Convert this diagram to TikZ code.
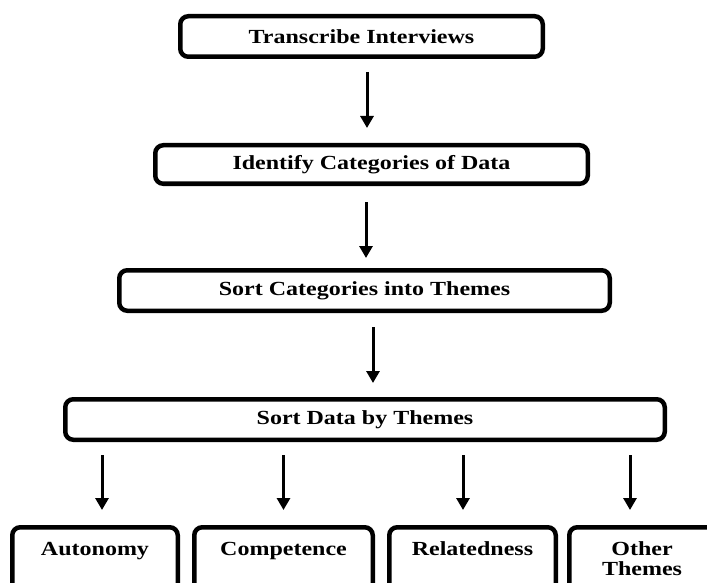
\documentclass[tikz,border=0pt]{standalone}
\usepackage{fontspec}
\setmainfont[FakeStretch=1.2]{Liberation Serif}
\usetikzlibrary{arrows.meta}
\tikzset{
  stepbox/.style={draw=black, line width=4.5pt, rounded corners=8pt, inner sep=0pt,
    font=\fontsize{20}{20}\selectfont\bfseries, align=center},
  leafbox/.style={stepbox, anchor=base, text height=27.75pt, text depth=75pt},
  arr/.style={line width=3pt, -{Triangle[width=13pt,length=12pt]}}
}
\begin{document}
\begin{tikzpicture}[x=1pt,y=-1pt]
\useasboundingbox (0,0) rectangle (707,583);
\clip (0,0) rectangle (707,583);
\fill[white] (0,0) rectangle (707,583);
\node[stepbox, minimum width=362.5pt, minimum height=40.5pt] (b1) at (361.5,36.5) {Transcribe Interviews};
\node[stepbox, minimum width=432.5pt, minimum height=38.5pt] (b2) at (371.5,164.5) {Identify Categories of Data};
\node[stepbox, minimum width=490.5pt, minimum height=40.5pt] (b3) at (364.5,290.5) {Sort Categories into Themes};
\node[stepbox, minimum width=599.5pt, minimum height=40.5pt] (b4) at (365,419.5) {Sort Data by Themes};
\node[leafbox, minimum width=165.5pt] (A) at (95,555) {Autonomy};
\node[leafbox, minimum width=178.5pt] (B) at (283.5,555) {Competence};
\node[leafbox, minimum width=166.5pt] (C) at (472.5,555) {Relatedness};
\node[leafbox, minimum width=145.5pt, text height=47.75pt, text depth=55pt] (D) at (642,575) {Other\\Themes};
\draw[arr, shorten <=13pt, shorten >=15pt] ([xshift=5.5pt]b1.south) -- ([xshift=5.5pt]b1.south |- b2.north);
\draw[arr, shorten <=16pt, shorten >=10pt] ([xshift=-5.5pt]b2.south) -- ([xshift=-5.5pt]b2.south |- b3.north);
\draw[arr, shorten <=14pt, shorten >=14pt] ([xshift=8.5pt]b3.south) -- ([xshift=8.5pt]b3.south |- b4.north);
\draw[arr, shorten <=13pt, shorten >=15pt] ([xshift=7pt]A.north |- b4.south) -- ([xshift=7pt]A.north);
\draw[arr, shorten <=13pt, shorten >=15pt] (B.north |- b4.south) -- (B.north);
\draw[arr, shorten <=13pt, shorten >=15pt] ([xshift=-9.5pt]C.north |- b4.south) -- ([xshift=-9.5pt]C.north);
\draw[arr, shorten <=13pt, shorten >=15pt] ([xshift=-12pt]D.north |- b4.south) -- ([xshift=-12pt]D.north);
\end{tikzpicture}
\end{document}
